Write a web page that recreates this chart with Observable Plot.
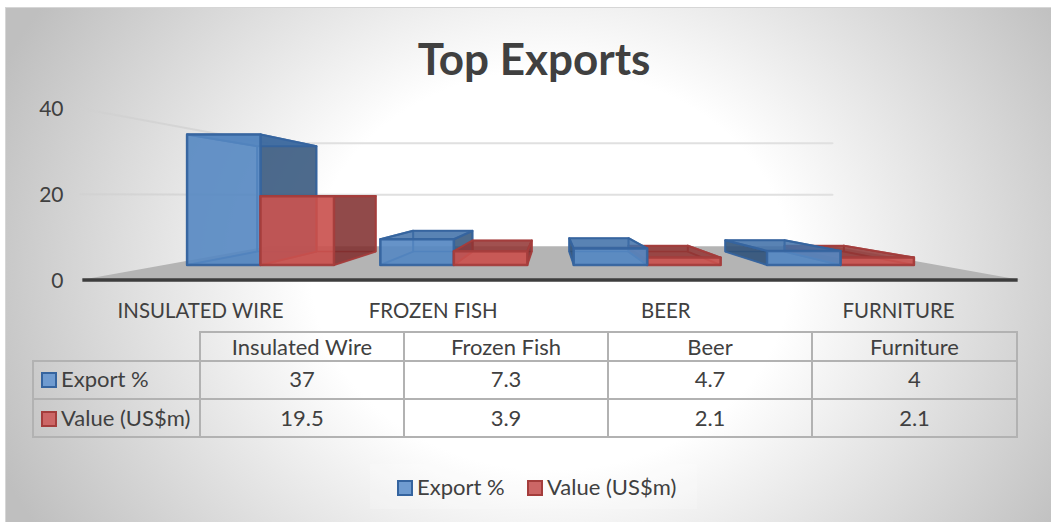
<!DOCTYPE html>
<html>
<head>
<meta charset="utf-8">
<script src="https://cdn.jsdelivr.net/npm/d3@7"></script>
<script src="https://cdn.jsdelivr.net/npm/@observablehq/plot@0.6"></script>
<style>
  html, body { margin: 0; padding: 0; background: #fff; }
  #stage { position: relative; width: 1051px; height: 522px; overflow: hidden;
           font-family: Lato, "Open Sans", sans-serif; color: #404040; }
  #panel { position: absolute; left: 5px; top: 7px; width: 1046px; height: 515px;
           border-left: 1px solid #d6d6d6; border-top: 1px solid #d6d6d6; box-sizing: border-box;
           background: radial-gradient(ellipse 600px 500px at 545px 262px, #fff 40%, #bfbfbf 100%); }
  #chart { position: absolute; left: 0; top: 0; }
  #chart svg { display: block; background: transparent; }
  #title { position: absolute; left: 0; width: 1068px; top: 33px; text-align: center;
           font-size: 44px; font-weight: 700; line-height: 50px; }
  table { position: absolute; left: 32px; top: 331px; border-collapse: collapse; table-layout: fixed;
          font-size: 22px; line-height: 24px; width: 984px; }
  td { border: 2px solid #b2b2b2; text-align: center; padding: 0; white-space: nowrap; }
  td.blank { border: none; border-bottom: 2px solid #b2b2b2; border-right: 2px solid #b2b2b2; }
  td.series { text-align: left; padding-left: 7px; }
  tr.head { height: 29px; } tr.row { height: 38px; }
  tr.row0 td { padding-bottom: 3px; } tr.row1 td { padding-bottom: 1px; }
  .key { display: inline-block; width: 12px; height: 12px; border-width: 2px; border-style: solid;
         vertical-align: -1px; margin-right: 4px; }
  #legend { position: absolute; left: 370px; top: 464px; width: 327px; height: 45px; line-height: 45px;
            background: rgba(255,255,255,.2); font-size: 22px; white-space: nowrap; }
  #legend span.item { position: absolute; top: 0; }
</style>
</head>
<body>
<div id="stage">
  <div id="panel"></div>
  <div id="chart"></div>
  <div id="title">Top Exports</div>
  <table id="tbl"></table>
  <div id="legend"></div>
</div>
<script>
const categories = ["Insulated Wire", "Frozen Fish", "Beer", "Furniture"];
const exportPct = [37, 7.3, 4.7, 4];
const valueUsd = [19.5, 3.9, 2.1, 2.1];
const valueTicks = [0, 20, 40];
const seriesNames = ["Export %", "Value (US$m)"];

// Perspective: points shrink toward a vanishing point, in data units
const vanishU = 2, vanishV = 19.71;
const sBarFront = 0.8226, sBarBack = 0.664, sWall = 0.6;
const barHalf = 0.38;
const project = (u, v, s) => ({x: vanishU + (u - vanishU) * s, y: vanishV + (v - vanishV) * s});
const poly = (pts) => [...pts, pts[0]].map(([u, v, s]) => project(u, v, s));

const palette = [
  {stroke: "#35649f", front: "#5587c2", inner: "#6f9bd0", outer: "#2f5075", top: "#3f6ea6"},
  {stroke: "#a43d3c", front: "#c9524f", inner: "#c66", outer: "#7a2c2c", top: "#8f3433"}
];

function bar(u0, u1, v, c) {
  const F = sBarFront, B = sBarBack;
  const visibleRight = (u0 + u1) / 2 < vanishU;
  const face = (pts, fill, op, sw = 2) => Plot.line(poly(pts), {x: "x", y: "y", fill, fillOpacity: op, stroke: c.stroke, strokeWidth: sw, strokeOpacity: 0.9});
  const back = face([[u0,0,B],[u1,0,B],[u1,v,B],[u0,v,B]], c.front, 0.35, 1.5);
  const bottom = face([[u0,0,F],[u1,0,F],[u1,0,B],[u0,0,B]], c.front, 0.4, 1);
  const left = face([[u0,0,F],[u0,v,F],[u0,v,B],[u0,0,B]], visibleRight ? c.inner : c.outer, visibleRight ? 0.25 : 0.85, 2);
  const right = face([[u1,0,F],[u1,v,F],[u1,v,B],[u1,0,B]], visibleRight ? c.outer : c.inner, visibleRight ? 0.8 : 0.3, 2);
  const top = face([[u0,v,F],[u1,v,F],[u1,v,B],[u0,v,B]], c.top, 0.8, 2);
  const front = face([[u0,0,F],[u1,0,F],[u1,v,F],[u0,v,F]], c.front, 0.88, 2.5);
  return [back, bottom, left, right, top, front];
}

const barMarks = categories.flatMap((_, i) => {
  const mid = i + 0.5;
  const blue = bar(mid - barHalf, mid, exportPct[i], palette[0]);
  const red = bar(mid, mid + barHalf, valueUsd[i], palette[1]);
  return mid < vanishU ? [...blue, ...red] : [...red, ...blue];
});

// back wall gridlines and left wall gridlines
const gridMarks = valueTicks.filter(t => t > 0).flatMap(t => [
  Plot.line(poly([[0,t,1],[0,t,sWall]]).slice(0,2), {x:"x", y:"y", stroke:"#d0d0d0", strokeWidth:2, strokeOpacity:.7}),
  Plot.line(poly([[0,t,sWall],[4,t,sWall]]).slice(0,2), {x:"x", y:"y", stroke:"#e0e0e0", strokeWidth:2})
]);

const plot = Plot.plot({
  width: 1051, height: 522,
  marginLeft: 67, marginTop: 0, marginRight: 0, marginBottom: 0,
  x: {domain: [0, 4], range: [80, 1020], axis: null},
  y: {domain: [0, 40], range: [279.5, 108], axis: null},
  marks: [
    Plot.axisY({ticks: valueTicks, tickSize: 0, tickPadding: 4, fontSize: 21, color: "#404040", label: null, fontFamily: "Lato", dy: 1}),
    ...gridMarks,
    Plot.line(poly([[0,0,1],[4,0,1],[4,0,sWall],[0,0,sWall]]), {x:"x", y:"y", fill:"#b4b4b4", stroke:"none"}),
    ...barMarks,
    Plot.ruleY([0], {x1: 0.01, x2: 3.99, stroke: "#3d3d3d", strokeWidth: 3.5}),
    Plot.text(categories, {
      x: (d, i) => 2 + (i - 1.5) * 0.99, y: 0, dy: 31, dx: -1,
      text: d => d.toUpperCase(), fontSize: 20.4, fill: "#404040", fontFamily: "Lato"
    })
  ]
});
document.getElementById("chart").append(plot);

// data table
const tbl = document.getElementById("tbl");
const colWidths = [167, 204, 204, 204, 205];
tbl.innerHTML = "<colgroup>" + colWidths.map(w => `<col style="width:${w}px">`).join("") + "</colgroup>"
  + `<tr class="head"><td class="blank"></td>${categories.map(c => `<td>${c}</td>`).join("")}</tr>`
  + [exportPct, valueUsd].map((vals, k) =>
      `<tr class="row row${k}"><td class="series"><span class="key" style="background:${palette[k].inner};border-color:${palette[k].stroke}"></span>${seriesNames[k]}</td>`
      + vals.map(v => `<td>${v}</td>`).join("") + "</tr>").join("");

// legend
const legendLeft = [27, 157];
document.getElementById("legend").innerHTML = seriesNames.map((n, k) =>
  `<span class="item" style="left:${legendLeft[k]}px"><span class="key" style="background:${palette[k].inner};border-color:${palette[k].stroke}"></span>${n}</span>`).join("");
</script>
</body>
</html>
